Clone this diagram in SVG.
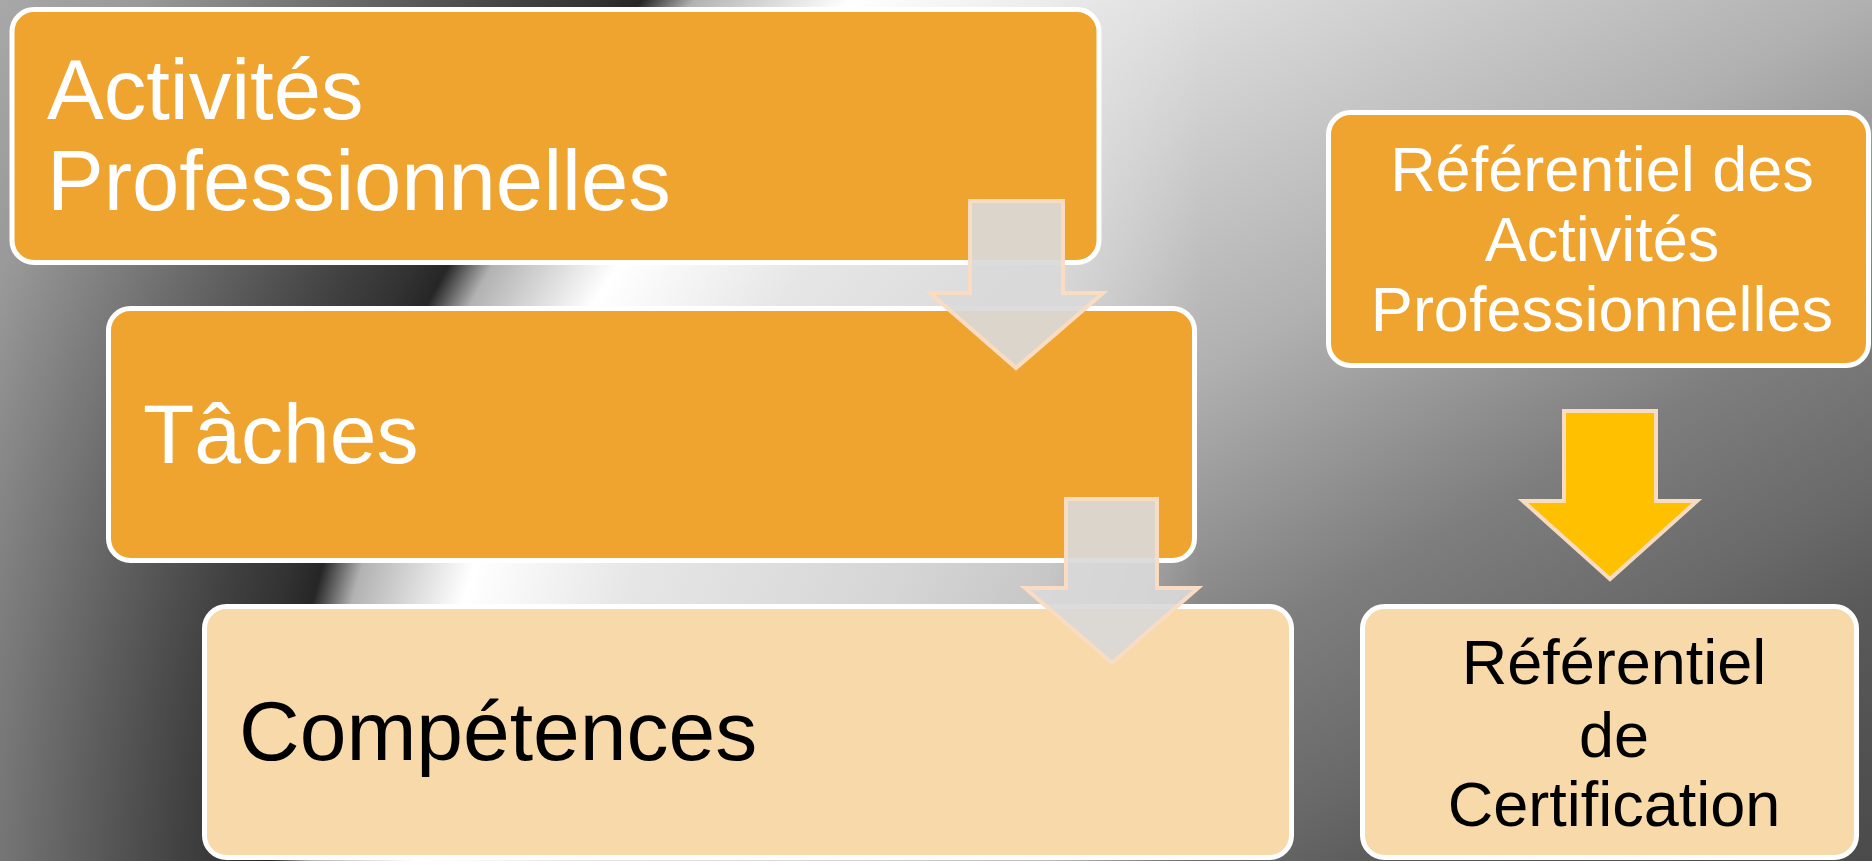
<svg xmlns="http://www.w3.org/2000/svg" width="1872" height="861" viewBox="0 0 1872 861">
  <defs>
    <radialGradient id="bgA" gradientUnits="userSpaceOnUse" cx="1668" cy="953" r="2000" fx="1668" fy="953">
      <stop offset="0" stop-color="#707070"/>
      <stop offset="0.35" stop-color="#c4c4c4"/>
      <stop offset="0.425" stop-color="#d5d5d5"/>
      <stop offset="0.55" stop-color="#e6e6e6"/>
      <stop offset="0.6275" stop-color="#ffffff"/>
      <stop offset="0.681" stop-color="#b2b2b2"/>
      <stop offset="0.70" stop-color="#262626"/>
      <stop offset="0.717" stop-color="#333333"/>
      <stop offset="0.743" stop-color="#404040"/>
      <stop offset="0.8375" stop-color="#777777"/>
      <stop offset="0.8985" stop-color="#999999"/>
      <stop offset="0.96" stop-color="#a8a8a8"/>
      <stop offset="1" stop-color="#b0b0b0"/>
    </radialGradient>
    <linearGradient id="bgB" gradientUnits="userSpaceOnUse" x1="0" y1="0" x2="825.5" y2="1485.8">
      <stop offset="0" stop-color="#ffffff"/>
      <stop offset="0.314" stop-color="#e4e4e4"/>
      <stop offset="0.535" stop-color="#b0b0b0"/>
      <stop offset="0.686" stop-color="#7e7e7e"/>
      <stop offset="0.783" stop-color="#6a6a6a"/>
      <stop offset="0.843" stop-color="#5a5a5a"/>
      <stop offset="1" stop-color="#484848"/>
    </linearGradient>
    <linearGradient id="fadeR" gradientUnits="userSpaceOnUse" x1="1050" y1="0" x2="1200" y2="0">
      <stop offset="0" stop-color="#ffffff" stop-opacity="0"/>
      <stop offset="1" stop-color="#ffffff" stop-opacity="1"/>
    </linearGradient>
    <mask id="rightMask" maskUnits="userSpaceOnUse" x="0" y="0" width="1872" height="861">
      <rect x="0" y="0" width="1872" height="861" fill="url(#fadeR)"/>
    </mask>
  </defs>
  <style>
    .box { stroke: #ffffff; stroke-width: 5; }
    .dark { fill: #efa430; }
    .light { fill: #f8d9aa; }
    .t { font-family: "Liberation Sans", Arial, sans-serif; }
    .big { font-size: 84px; }
    .big85 { font-size: 85px; }
    .small { font-size: 63px; text-anchor: middle; }
    .white { fill: #ffffff; }
    .black { fill: #000000; }
    .garrow { fill: #d9d9d9; fill-opacity: 0.92; stroke: #f9dcc2; stroke-width: 4; stroke-linejoin: miter; }
    .yarrow { fill: #ffc000; stroke: #f8dcc2; stroke-width: 4; stroke-linejoin: miter; }
  </style>
  <rect x="0" y="0" width="1872" height="861" fill="url(#bgA)"/>
  <rect x="0" y="0" width="1872" height="861" fill="url(#bgB)" mask="url(#rightMask)"/>

  <g id="node-activites">
    <rect class="box dark" x="12" y="9.5" width="1087" height="253" rx="22"/>
    <text class="t big85 white" x="47" y="119">Activités</text>
    <text class="t big85 white" x="47" y="210">Professionnelles</text>
  </g>
  <g id="node-taches">
    <rect class="box dark" x="108.5" y="308.5" width="1086" height="252" rx="22"/>
    <text class="t big white" x="143" y="463">Tâches</text>
  </g>
  <g id="node-competences">
    <rect class="box light" x="204.5" y="606.5" width="1087" height="251" rx="22"/>
    <text class="t big black" x="239" y="760">Compétences</text>
  </g>
  <g id="node-rap">
    <rect class="box dark" x="1328.5" y="112.5" width="540" height="253" rx="22"/>
    <text class="t small white" x="1602" y="191">Référentiel des</text>
    <text class="t small white" x="1602" y="261">Activités</text>
    <text class="t small white" x="1602" y="331">Professionnelles</text>
  </g>
  <g id="node-rc">
    <rect class="box light" x="1362.5" y="606.5" width="494" height="251" rx="22"/>
    <text class="t small black" x="1614" y="684">Référentiel</text>
    <text class="t small black" x="1614" y="757">de</text>
    <text class="t small black" x="1614" y="826">Certification</text>
  </g>

  <g id="connectors">
    <polygon class="garrow" points="970,201 1063,201 1063,293 1103,293 1016,368 930,293 970,293"/>
    <polygon class="garrow" points="1066,499 1157,499 1157,588 1198,588 1112,663 1025,588 1066,588"/>
    <polygon class="yarrow" points="1564,411 1656,411 1656,501 1697,501 1610,579 1523,501 1564,501"/>
  </g>
</svg>
